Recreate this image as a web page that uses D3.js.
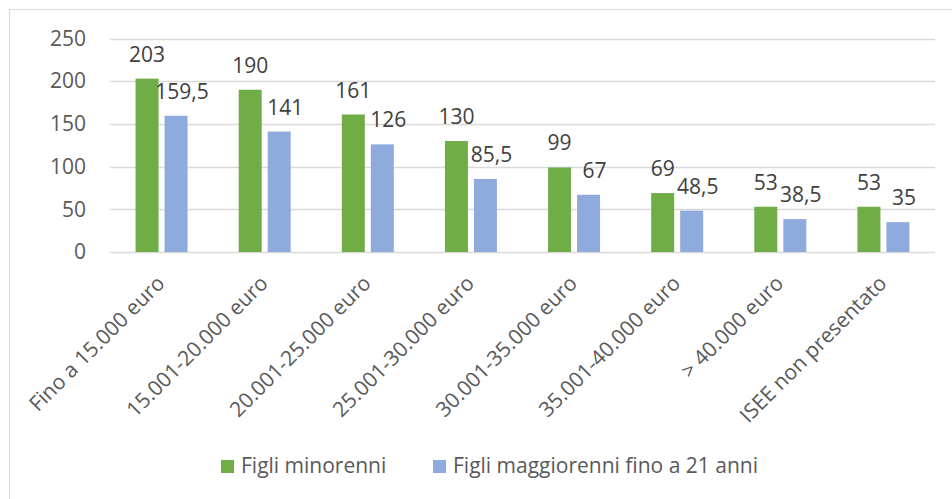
<!DOCTYPE html>
<html>
<head>
<meta charset="utf-8">
<script src="https://cdn.jsdelivr.net/npm/d3@7"></script>
<style>
  body { margin: 0; background: #fff; }
  text { font-family: "Open Sans", "Liberation Sans", sans-serif; }
</style>
</head>
<body>
<div id="chart"></div>
<script>
// Data
const categories = ["Fino a 15.000 euro", "15.001-20.000 euro", "20.001-25.000 euro",
  "25.001-30.000 euro", "30.001-35.000 euro", "35.001-40.000 euro",
  "> 40.000 euro", "ISEE non presentato"];
const minorenni = [203, 190, 161, 130, 99, 69, 53, 53];
const maggiorenni = [159.5, 141, 126, 85.5, 67, 48.5, 38.5, 35];
const seriesNames = ["Figli minorenni", "Figli maggiorenni fino a 21 anni"];
const yTicks = [0, 50, 100, 150, 200, 250];

const width = 952, height = 499;
const colors = ["#70ad47", "#8faadc"];
const fontSize = "21px";
const fmt = v => String(v).replace(".", ",");

const svg = d3.select("#chart").append("svg")
  .attr("width", width)
  .attr("height", height);

// outer chart border
svg.append("rect")
  .attr("x", 9.5).attr("y", 9.5)
  .attr("width", 960).attr("height", 520)
  .attr("fill", "none")
  .attr("stroke", "#d9d9d9");

const x = d3.scaleBand()
  .domain(categories)
  .range([110, 935]);

const y = d3.scaleLinear()
  .domain([0, 250])
  .range([252, 38.5]);

// gridlines
svg.append("g")
  .selectAll("line")
  .data(yTicks)
  .enter().append("line")
  .attr("x1", 110).attr("x2", 935)
  .attr("y1", d => Math.round(y(d)) + 0.5)
  .attr("y2", d => Math.round(y(d)) + 0.5)
  .attr("stroke", "#d9d9d9")
  .attr("stroke-width", 1.3);

// y axis labels
const yAxis = svg.append("g")
  .attr("transform", "translate(110,0)")
  .call(d3.axisLeft(y).tickValues(yTicks).tickSize(0).tickPadding(24));
yAxis.select(".domain").remove();
yAxis.selectAll("text")
  .style("font-family", "'Open Sans', sans-serif")
  .style("font-size", fontSize)
  .attr("fill", "#595959");

// bars
const barW = 23, gap = 6;
const groupW = barW * 2 + gap;
const series = [minorenni, maggiorenni];

series.forEach(function(vals, s) {
  const g = svg.append("g");
  const bx = (d, i) => x(categories[i]) + x.bandwidth() / 2 - groupW / 2 + s * (barW + gap);
  g.selectAll("rect")
    .data(vals)
    .enter().append("rect")
    .attr("x", bx)
    .attr("y", d => y(d))
    .attr("width", barW)
    .attr("height", d => y(0) - y(d))
    .attr("fill", colors[s]);

  g.selectAll("text")
    .data(vals)
    .enter().append("text")
    .attr("x", (d, i) => bx(d, i) + barW / 2 + (s === 1 ? 6 : 0))
    .attr("y", d => y(d) - 17)
    .attr("text-anchor", "middle")
    .style("font-size", fontSize)
    .attr("fill", "#404040")
    .text(fmt);
});

// category labels
svg.append("g")
  .selectAll("text")
  .data(categories)
  .enter().append("text")
  .attr("transform", d => "translate(" + (x(d) + x.bandwidth() / 2) + ",280) rotate(-45)")
  .attr("text-anchor", "end")
  .attr("dy", "0.3em")
  .style("font-size", fontSize)
  .attr("fill", "#595959")
  .text(d => d);

// legend
const legendX = [221, 433];
const legend = svg.append("g");
seriesNames.forEach(function(name, s) {
  legend.append("rect")
    .attr("x", legendX[s]).attr("y", 460)
    .attr("width", 13).attr("height", 13)
    .attr("fill", colors[s]);
  legend.append("text")
    .attr("x", legendX[s] + 20).attr("y", 473)
    .style("font-size", fontSize)
    .attr("fill", "#595959")
    .text(name);
});
</script>
</body>
</html>
